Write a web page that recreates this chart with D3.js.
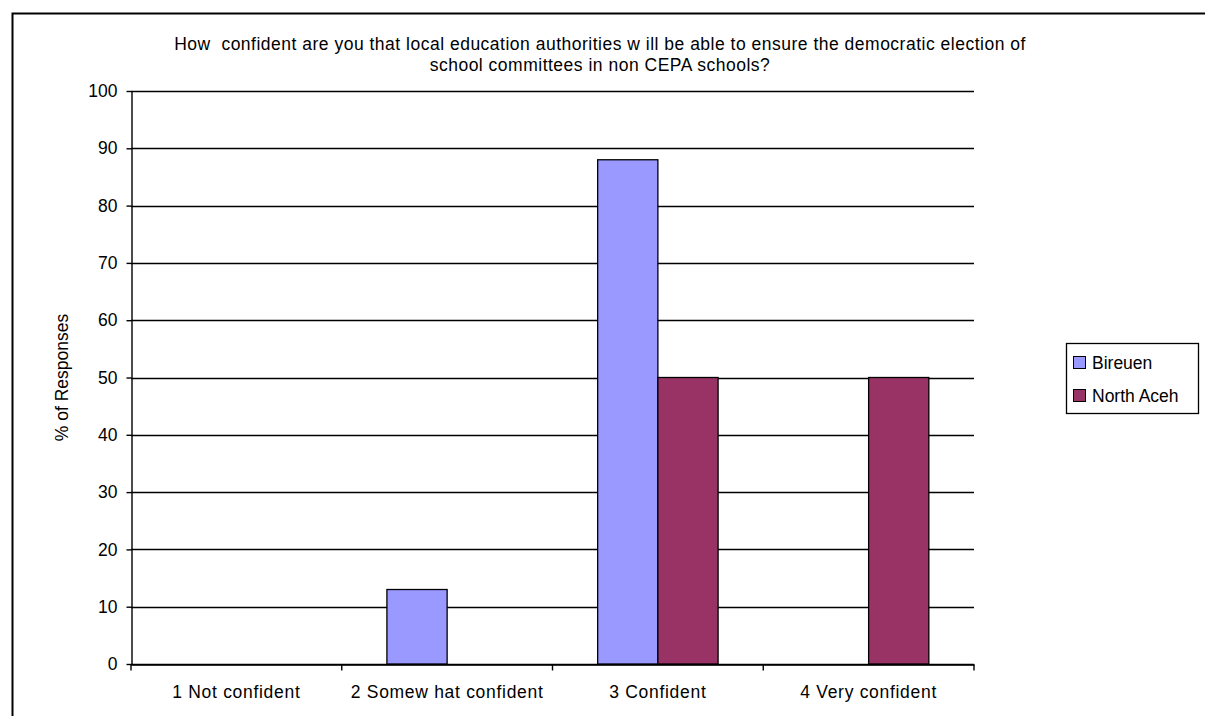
<!DOCTYPE html>
<html>
<head>
<meta charset="utf-8">
<script src="https://cdn.jsdelivr.net/npm/d3@7"></script>
<style>
  body { margin: 0; background: #fff; }
  svg { display: block; font-family: Arial, "Liberation Sans", sans-serif; }
  text { white-space: pre; }
</style>
</head>
<body>
<svg id="chart" width="1205" height="716"></svg>
<script>
const categories = ['1 Not confident', '2 Somew hat confident', '3 Confident', '4 Very confident'];
const seriesNames = ['Bireuen', 'North Aceh'];
const bireuen = [0, 13, 88, 0];
const northAceh = [0, 0, 50, 50];
const yTicks = [0, 10, 20, 30, 40, 50, 60, 70, 80, 90, 100];
const titleLines = [
  'How  confident are you that local education authorities w ill be able to ensure the democratic election of',
  'school committees in non CEPA schools?'
];
const colors = ['#9999ff', '#993366'];

const svg = d3.select('#chart');
const m = { left: 131, right: 974, top: 91, bottom: 664 };
const fs = 17.5;

// outer frame, runs off the right and bottom edges
svg.append('rect')
  .attr('x', 12.5).attr('y', 13.5)
  .attr('width', 1210).attr('height', 720)
  .attr('fill', 'none').attr('stroke', '#000').attr('stroke-width', 2);

const x = d3.scaleBand().domain(categories).range([m.left, m.right]);
const y = d3.scaleLinear().domain([0, 100]).range([m.bottom, m.top]);

// gridlines
svg.append('g')
  .selectAll('line')
  .data(yTicks)
  .enter()
  .append('line')
  .attr('x1', m.left).attr('x2', m.right)
  .attr('y1', d => Math.round(y(d)) + 0.5).attr('y2', d => Math.round(y(d)) + 0.5)
  .attr('stroke', '#000').attr('stroke-width', 1.4);

// bars: gap width 150% -> each bar is band / 3.5
const series = [bireuen, northAceh];
const bw = x.bandwidth() / 3.5;
series.forEach((vals, s) => {
  svg.append('g')
    .selectAll('rect')
    .data(categories.map((c, i) => ({ c, v: vals[i] })).filter(d => d.v > 0))
    .enter()
    .append('rect')
    .attr('x', d => x(d.c) + x.bandwidth() / 2 - bw + s * bw)
    .attr('y', d => y(d.v))
    .attr('width', bw)
    .attr('height', d => y(0) - y(d.v))
    .attr('fill', colors[s])
    .attr('stroke', '#000').attr('stroke-width', 1.3);
});

// y axis
const yAxis = svg.append('g')
  .attr('transform', `translate(${m.left + 0.5},0)`)
  .call(d3.axisLeft(y).tickValues(yTicks).tickSize(5).tickSizeOuter(0).tickPadding(9));
// x axis
const xAxis = svg.append('g')
  .attr('transform', `translate(0,${m.bottom + 0.5})`)
  .call(d3.axisBottom(x).tickSize(0).tickPadding(21));
[yAxis, xAxis].forEach(a => {
  a.select('.domain').attr('stroke', '#000').attr('stroke-width', 1.4);
  a.selectAll('text').attr('font-size', fs).attr('fill', '#000')
    .attr('font-family', 'Arial, "Liberation Sans", sans-serif');
  a.selectAll('line').attr('stroke', '#000').attr('stroke-width', 1.4);
});
xAxis.selectAll('text').attr('letter-spacing', 0.7);
// ticks at category boundaries
xAxis.selectAll('.bound')
  .data(categories.concat(['end']))
  .enter()
  .append('line')
  .attr('x1', (d, i) => i < categories.length ? x(d) : m.right)
  .attr('x2', (d, i) => i < categories.length ? x(d) : m.right)
  .attr('y1', 0).attr('y2', 6)
  .attr('stroke', '#000').attr('stroke-width', 1.4);

// y axis title
svg.append('text')
  .attr('transform', `translate(68,${(m.top + m.bottom) / 2}) rotate(-90)`)
  .attr('text-anchor', 'middle')
  .attr('font-size', fs)
  .text('% of Responses');

// title
svg.selectAll('.title')
  .data(titleLines)
  .enter()
  .append('text')
  .attr('x', 600).attr('y', (d, i) => 50 + i * 21)
  .attr('text-anchor', 'middle')
  .attr('font-size', fs)
  .attr('letter-spacing', 0.5)
  .text(d => d);

// legend
const lg = svg.append('g').attr('transform', 'translate(1066,343)');
lg.append('rect').attr('x', 0.5).attr('y', 0.5).attr('width', 132).attr('height', 70)
  .attr('fill', '#fff').attr('stroke', '#000').attr('stroke-width', 1.3);
seriesNames.forEach((n, i) => {
  lg.append('rect').attr('x', 7.5).attr('y', 13.5 + i * 33).attr('width', 12).attr('height', 12)
    .attr('fill', colors[i]).attr('stroke', '#000');
  lg.append('text').attr('x', 26).attr('y', 25.5 + i * 33).attr('font-size', fs).text(n);
});
</script>
</body>
</html>
